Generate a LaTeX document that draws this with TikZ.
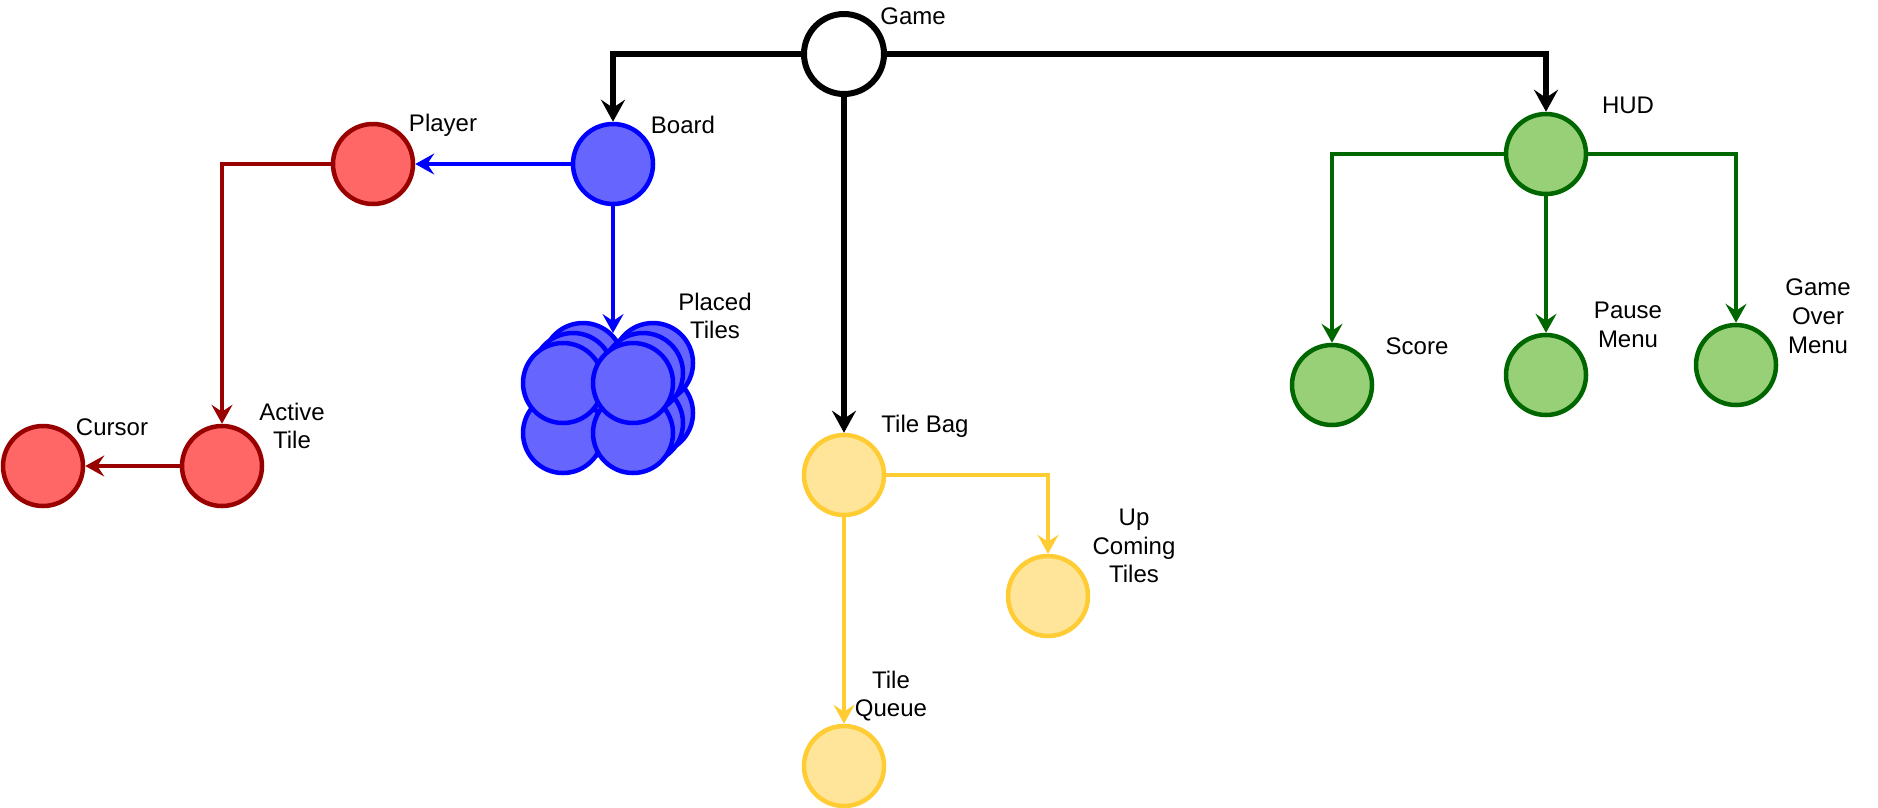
\documentclass[tikz,border=0pt]{standalone}
\usepackage{fontspec}
\setmainfont{Liberation Sans}
\usetikzlibrary{arrows.meta}
\definecolor{redfill}{HTML}{FF6666}
\definecolor{redline}{HTML}{990000}
\definecolor{bluefill}{HTML}{6666FF}
\definecolor{blueline}{HTML}{0000FF}
\definecolor{yellowfill}{HTML}{FFE599}
\definecolor{yellowline}{HTML}{FFCC33}
\definecolor{greenfill}{HTML}{97D077}
\definecolor{greenline}{HTML}{006600}
\begin{document}
\begin{tikzpicture}[x=1pt,y=-1pt,
  ball/.style={circle,minimum size=80pt,inner sep=0pt,line width=4.5pt},
  redball/.style={ball,draw=redline,fill=redfill},
  blueball/.style={ball,draw=blueline,fill=bluefill},
  yellowball/.style={ball,draw=yellowline,fill=yellowfill},
  greenball/.style={ball,draw=greenline,fill=greenfill},
  lbl/.style={font=\fontsize{24}{28.8}\selectfont,align=center,inner sep=0pt},
  edge/.style={-{Stealth[length=19pt,width=21pt,inset=7pt]},line width=4.5pt},
  blackedge/.style={-{Stealth[length=22pt,width=24pt,inset=8pt]},line width=6pt,black}]
\useasboundingbox (0,0) rectangle (1878,807);
%\draw (0,0) to[grid with coordinates] (1878,807);
% root
\node[ball,draw=black,fill=white,line width=6pt] (game) at (844,54) {};
\node[lbl] (gamelbl) at (913,16) {Game};
% board side
\node[blueball] (board) at (613,164) {};
\node[lbl] (boardlbl) at (683,125) {Board};
\node[redball] (player) at (373,164) {};
\node[lbl] (playerlbl) at (443,125) {Player};
\node[redball] (active) at (222,466) {};
\node[lbl] (activelbl) at (292,426) {Active\\Tile};
\node[redball] (cursor) at (43,466) {};
\node[lbl] (cursorlbl) at (112,427) {Cursor};
\foreach \k in {2,1,0}
  \foreach \px/\py in {563/433,633/433,563/383,633/383}
    \node[blueball] (tile-\k-\px-\py) at (\px+10*\k,\py-10*\k) {};
\coordinate (placed) at (613,333);
\node[lbl] (placedlbl) at (715,316) {Placed\\Tiles};
% tile bag
\node[yellowball] (tilebag) at (844,475) {};
\node[lbl] (tilebaglbl) at (925,426) {Tile Bag};
\node[yellowball] (upcoming) at (1048,596) {};
\node[lbl] (upcominglbl) at (1134,546) {Up\\Coming\\Tiles};
\node[yellowball] (queue) at (844,766) {};
\node[lbl] (queuelbl) at (891,696) {Tile\\Queue};
% hud
\node[greenball] (hud) at (1546,154) {};
\node[lbl] (hudlbl) at (1628,105) {HUD};
\node[greenball] (score) at (1332,385) {};
\node[lbl] (scorelbl) at (1417,346) {Score};
\node[greenball] (pause) at (1546,375) {};
\node[lbl] (pauselbl) at (1628,325) {Pause\\Menu};
\node[greenball] (gameover) at (1736,365) {};
\node[lbl] (gameoverlbl) at (1818,316) {Game\\Over\\Menu};
% connectors
\draw[blackedge] (game.west) -| (board.north);
\draw[blackedge] (game.south) -- (tilebag.north);
\draw[blackedge] (game.east) -| (hud.north);
\draw[edge,blueline] (board.west) -- (player.east);
\draw[edge,blueline] (board.south) -- (placed);
\draw[edge,redline] (player.west) -| (active.north);
\draw[edge,redline] (active.west) -- (cursor.east);
\draw[edge,yellowline] (tilebag.east) -| (upcoming.north);
\draw[edge,yellowline] (tilebag.south) -- (queue.north);
\draw[edge,greenline] (hud.west) -| (score.north);
\draw[edge,greenline] (hud.south) -- (pause.north);
\draw[edge,greenline] (hud.east) -| (gameover.north);
\end{tikzpicture}
\end{document}
